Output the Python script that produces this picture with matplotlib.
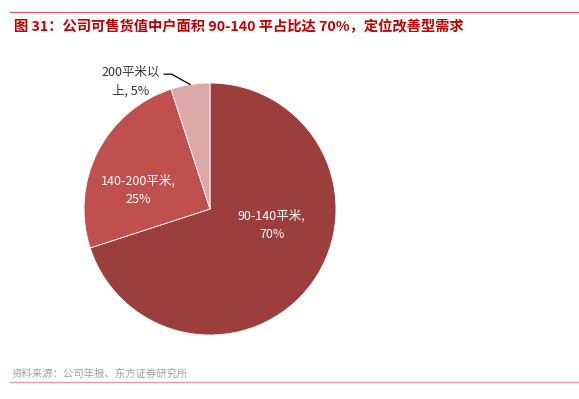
import numpy as np
import matplotlib
matplotlib.use('Agg')
import matplotlib.pyplot as plt

plt.rcParams['font.family'] = ['Noto Sans CJK SC', 'DejaVu Sans']

# data
labels = ['90-140平米', '140-200平米', '200平米以上']
shares = [70, 25, 5]
label_text = ['90-140平米,\n70%', '140-200平米,\n25%', '200平米以\n上, 5%']
colors = ['#9C3F3C', '#C0504D', '#DBA9A8']

title = '图 31：公司可售货值中户面积 90-140 平占比达 70%，定位改善型需求'
source = '资料来源：公司年报、东方证券研究所'

W, H = 579, 399
fig = plt.figure(figsize=(W / 100, H / 100), dpi=100)

# header / footer
fig.add_artist(plt.Line2D([10 / W, 1], [1 - 12 / H, 1 - 12 / H], color='#E06060', lw=1))
fig.text(14 / W, 1 - 27 / H, title, color='#C00000', fontsize=10.3, fontweight='bold', va='center')
fig.text(12 / W, 1 - 374 / H, source, color='#A0A0A0', fontsize=7.5, va='center')
fig.add_artist(plt.Line2D([10 / W, 1], [1 - 382 / H, 1 - 382 / H], color='#E89A9A', lw=1))

# pie axes: centre (210,209) px, radius 126 px
cx, cy, r = 210, 209, 126
ax = fig.add_axes([(cx - r) / W, (H - cy - r) / H, 2 * r / W, 2 * r / H])
wedges, _ = ax.pie(shares, colors=colors, startangle=90, counterclock=False,
                   radius=1, wedgeprops=dict(linewidth=0.6, edgecolor='white'))
ax.set_xlim(-1, 1)
ax.set_ylim(-1, 1)
ax.axis('off')

ax.text(0.49, -0.13, label_text[0], color='white', fontsize=9, ha='center', va='center',
        linespacing=1.5)
ax.text(-0.57, 0.15, label_text[1], color='white', fontsize=9, ha='center', va='center',
        linespacing=1.5)

# small slice: label plus leader line to wedge mid-angle
w = wedges[2]
mid = np.deg2rad((w.theta1 + w.theta2) / 2)
ax.text(-0.63, 1.01, label_text[2], fontsize=9, color='#333333', ha='center', va='center',
        linespacing=1.5, clip_on=False)
ax.annotate('', xy=(np.cos(mid), np.sin(mid)), xytext=(-0.365, 1.07),
            annotation_clip=False,
            arrowprops=dict(arrowstyle='-', color='black', lw=0.9, shrinkA=0, shrinkB=0,
                            connectionstyle='angle,angleA=0,angleB=-29,rad=0'))

fig.savefig('out.png', dpi=100)
